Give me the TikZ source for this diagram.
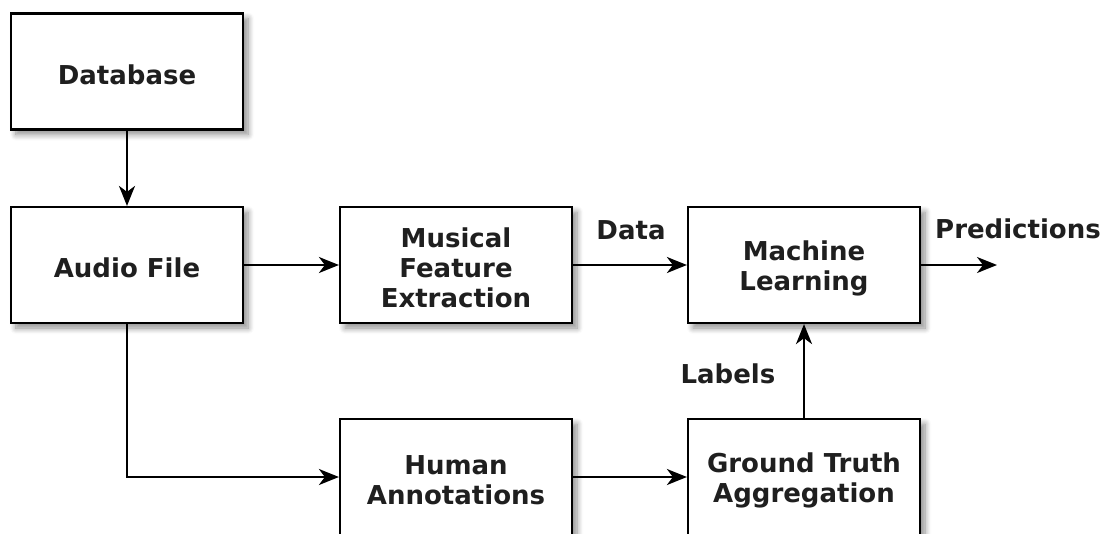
\documentclass[tikz,border=0pt]{standalone}
\usepackage{fontspec}
\setmainfont{DejaVu Sans}
\usetikzlibrary{arrows.meta,shadows.blur}
\tikzset{
  txt/.style={font=\fontsize{26}{30}\selectfont\bfseries, text=black!88, align=center},
  block/.style={draw=black, line width=2.2pt, fill=white, minimum width=232pt, minimum height=116pt,
    blur shadow={shadow xshift=5pt, shadow yshift=-5pt, shadow blur steps=8, shadow blur radius=6pt, shadow opacity=45},
    label={[txt, yshift=-3pt]center:#1}},
  conn/.style={line width=2.2pt, -{Stealth[length=20pt,width=16pt,inset=6pt]}},
  lbl/.style={txt}
}
\begin{document}
\begin{tikzpicture}[x=1pt,y=-1pt]
  \useasboundingbox (0,0) rectangle (1113,533);
  \begin{scope}
    \clip (0,0) rectangle (1113,533);
    \node[block={Database}] (db)  at (127,71.5) {};
    \node[block={Audio File}] (af)  at (127,265) {};
    \node[block={Musical\\Feature\\Extraction}] (mfe) at (456,265) {};
    \node[block={Machine\\Learning}] (ml)  at (804,265) {};
    \node[block={Human\\Annotations}] (ha)  at (456,477) {};
    \node[block={Ground Truth\\Aggregation}] (gt)  at (804,477) {};
    \coordinate (out) at (997,265);
    \coordinate (bend) at (127,477);

    \draw[conn] (db) -- (af);
    \draw[conn] (af) -- (mfe);
    \draw[conn] (mfe) -- (ml);
    \draw[conn] (ml) -- (out);
    \draw[conn] (af.south) -- (bend) -- (ha.west);
    \draw[conn] (ha) -- (gt);
    \draw[conn] (gt) -- (ml);

    \node[lbl] (ldata) at (631,230) {Data};
    \node[lbl] (lpred) at (1018,229) {Predictions};
    \node[lbl] (llab)  at (728,374) {Labels};
  \end{scope}
\end{tikzpicture}
\end{document}
